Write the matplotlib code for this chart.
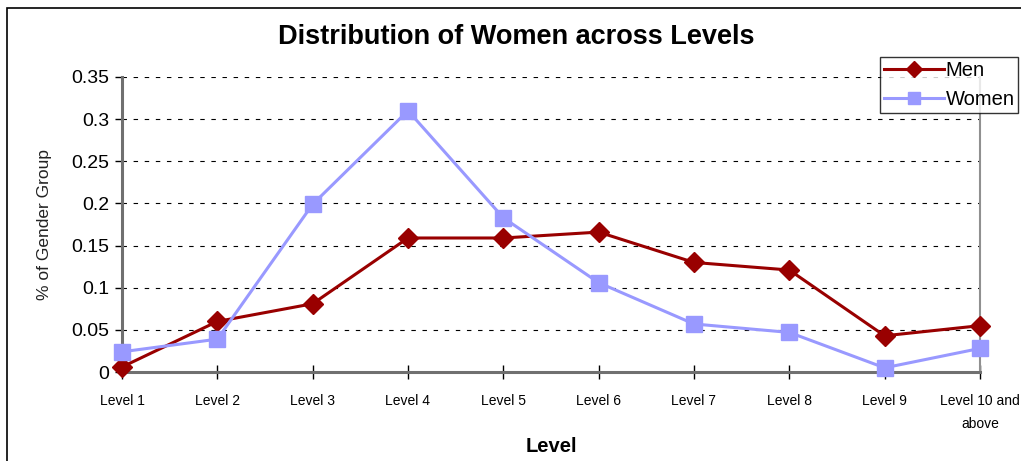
import matplotlib.pyplot as plt
from matplotlib.patches import Rectangle

plt.rcParams['font.family'] = ['Liberation Sans', 'DejaVu Sans']

levels = ['Level 1', 'Level 2', 'Level 3', 'Level 4', 'Level 5', 'Level 6',
          'Level 7', 'Level 8', 'Level 9', 'Level 10 and\nabove']
men = [0.006, 0.060, 0.081, 0.159, 0.159, 0.166, 0.130, 0.121, 0.043, 0.055]
women = [0.024, 0.039, 0.199, 0.310, 0.183, 0.106, 0.057, 0.047, 0.005, 0.028]
yticks = [0, 0.05, 0.1, 0.15, 0.2, 0.25, 0.3, 0.35]
ytick_labels = ['0', '0.05', '0.1', '0.15', '0.2', '0.25', '0.3', '0.35']

fig = plt.figure(figsize=(10.21, 4.61), dpi=100)
ax = fig.add_axes([0.1195, 0.193, 0.8403, 0.640])

x = range(len(levels))
ax.plot(x, men, color='#990000', linewidth=2.2, marker='D', markersize=10,
        label='Men', clip_on=False, zorder=3)
ax.plot(x, women, color='#9999FF', linewidth=2.2, marker='s', markersize=11,
        label='Women', clip_on=False, zorder=3)

ax.set_xlim(0, len(levels) - 1)
ax.set_ylim(0, 0.35)
ax.set_yticks(yticks)
ax.set_yticklabels(ytick_labels, fontsize=14)
ax.set_xticks(list(x))
ax.set_xticklabels(levels, fontsize=10, linespacing=1.8, va='top')

for y in yticks[1:]:
    ax.axhline(y, color='black', linestyle=(0, (4, 6)), linewidth=0.8, zorder=1)

for side in ['left', 'bottom']:
    ax.spines[side].set_color('#707070')
    ax.spines[side].set_linewidth(2.2)
ax.spines['right'].set_color('#909090')
ax.spines['right'].set_linewidth(1.5)
ax.spines['top'].set_visible(False)

ax.tick_params(axis='y', direction='out', length=5, width=1, pad=4)
ax.tick_params(axis='x', direction='inout', length=10, width=1, pad=11)

fig.text(516 / 1021, 1 - 37 / 461, 'Distribution of Women across Levels',
         fontsize=19.5, fontweight='bold', ha='center', va='center')
ax.set_xlabel('Level', fontsize=14.5, fontweight='bold', labelpad=4)
fig.text(45 / 1021, 1 - 225 / 461, '% of Gender Group', fontsize=12.5,
         color='#222222', rotation=90, ha='center', va='center')

leg = fig.legend(loc='upper left', bbox_to_anchor=(880 / 1021, 1 - 57 / 461),
                 fontsize=14.5, frameon=True, fancybox=False,
                 borderpad=0.2, handlelength=3.0, handletextpad=0.05,
                 labelspacing=0.5, borderaxespad=0, markerscale=0.8)
leg.get_frame().set_edgecolor('black')
leg.get_frame().set_linewidth(1)

# chart border
fig.patches.append(Rectangle((7 / 1021, -0.05), 1.1, 1 - 8 / 461 + 0.05,
                             transform=fig.transFigure, fill=False,
                             edgecolor='black', linewidth=1.2))

fig.savefig('out.png', dpi=100)
